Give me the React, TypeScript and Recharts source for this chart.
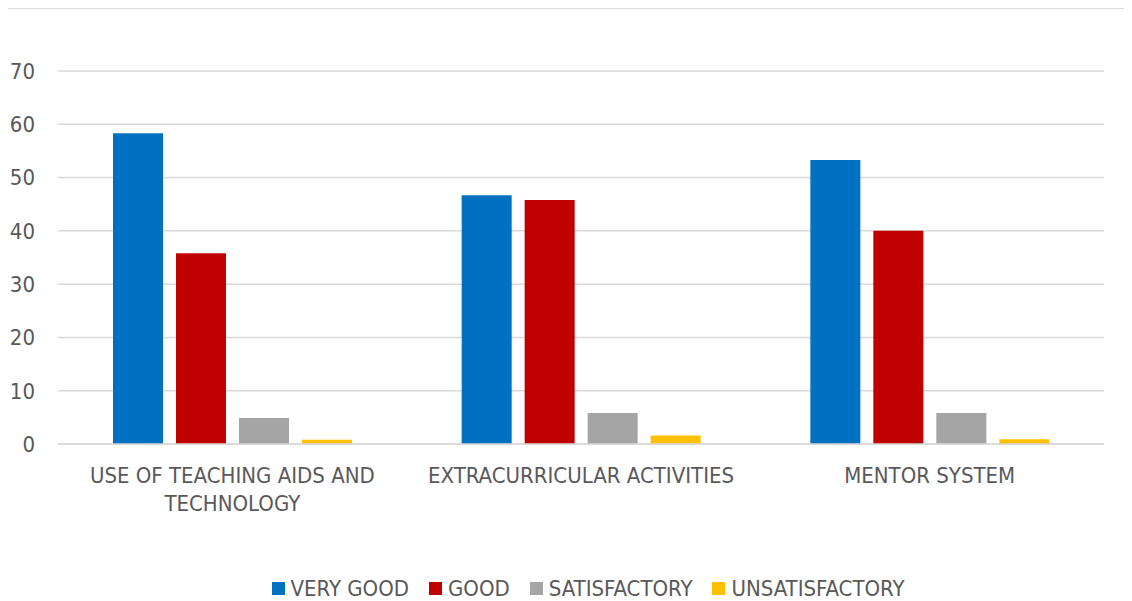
// App.tsx
// Clustered bar chart: rating distribution per service area, Excel-style look.
import { BarChart, Bar, CartesianGrid, XAxis, YAxis, Legend } from "recharts";

const CATEGORIES = [
  "USE OF TEACHING AIDS AND TECHNOLOGY",
  "EXTRACURRICULAR ACTIVITIES",
  "MENTOR SYSTEM",
];
const VERY_GOOD = [58.3, 46.7, 53.3];
const GOOD = [35.8, 45.8, 40.0];
const SATISFACTORY = [4.9, 5.8, 5.8];
const UNSATISFACTORY = [0.8, 1.6, 0.9];
const Y_TICKS = [0, 10, 20, 30, 40, 50, 60, 70];

const SERIES = [
  { key: "veryGood", name: "VERY GOOD", color: "#0070C0" },
  { key: "good", name: "GOOD", color: "#C00000" },
  { key: "satisfactory", name: "SATISFACTORY", color: "#A5A5A5" },
  { key: "unsatisfactory", name: "UNSATISFACTORY", color: "#FFC000" },
];

const data = CATEGORIES.map((name, i) => ({
  name,
  veryGood: VERY_GOOD[i],
  good: GOOD[i],
  satisfactory: SATISFACTORY[i],
  unsatisfactory: UNSATISFACTORY[i],
}));

const FONT = '"Liberation Sans Narrow", "DejaVu Sans Condensed", "Roboto", sans-serif';
const TEXT_COLOR = "#595959";
const GRID = "#D9D9D9";
const MAX_LINE_CHARS = 26;

// split a label into lines of at most MAX_LINE_CHARS characters (word boundaries)
function wrapLabel(label: string) {
  const lines: string[] = [];
  let cur = "";
  for (const w of label.split(" ")) {
    const next = cur ? cur + " " + w : w;
    if (next.length > MAX_LINE_CHARS && cur) {
      lines.push(cur);
      cur = w;
    } else {
      cur = next;
    }
  }
  if (cur) lines.push(cur);
  return lines;
}

function CategoryTick({ x, y, payload }: any) {
  const lines = wrapLabel(String(payload.value));
  return (
    <text
      x={x}
      y={y}
      textAnchor="middle"
      fill={TEXT_COLOR}
      style={{ fontSize: 22, fontFamily: FONT }}
    >
      {lines.map((l, i) => (
        <tspan key={i} x={x} dy={i === 0 ? 16 : 28}>
          {l}
        </tspan>
      ))}
    </text>
  );
}

function LegendRow() {
  return (
    <div
      style={{
        display: "flex",
        justifyContent: "center",
        alignItems: "center",
        height: 26,
        paddingLeft: 36,
        fontFamily: FONT,
        fontSize: 22,
        color: TEXT_COLOR,
      }}
    >
      {SERIES.map((s) => (
        <div key={s.key} style={{ display: "flex", alignItems: "center", margin: "0 10px" }}>
          <span style={{ width: 13, height: 13, background: s.color, marginRight: 6, display: "inline-block" }} />
          <span>{s.name}</span>
        </div>
      ))}
    </div>
  );
}

export default function App() {
  return (
    <div
      style={{
        marginLeft: -1,
        width: 1124,
        height: 592,
        borderTop: `1px solid ${GRID}`,
        borderLeft: `1px solid ${GRID}`,
        background: "#fff",
      }}
    >
      <BarChart
        width={1124}
        height={592}
        data={data}
        margin={{ top: 62, right: 28, left: 0, bottom: 0 }}
        barSize={50}
        barGap={13}
      >
        <CartesianGrid vertical={false} stroke={GRID} strokeWidth={1.5} />
        <XAxis
          dataKey="name"
          interval={0}
          height={131}
          axisLine={{ stroke: GRID, strokeWidth: 1.5 }}
          tickLine={false}
          tickSize={0}
          tickMargin={23}
          tick={<CategoryTick />}
        />
        <YAxis
          domain={[0, 70]}
          ticks={Y_TICKS}
          width={50}
          axisLine={false}
          tickLine={false}
          tickSize={0}
          tickMargin={23}
          tick={{ fill: TEXT_COLOR, fontSize: 22, fontFamily: FONT }}
        />
        <Legend verticalAlign="bottom" content={<LegendRow />} wrapperStyle={{ left: 0, width: 1124 }} />
        {SERIES.map((s) => (
          <Bar key={s.key} dataKey={s.key} name={s.name} fill={s.color} isAnimationActive={false} />
        ))}
      </BarChart>
    </div>
  );
}
